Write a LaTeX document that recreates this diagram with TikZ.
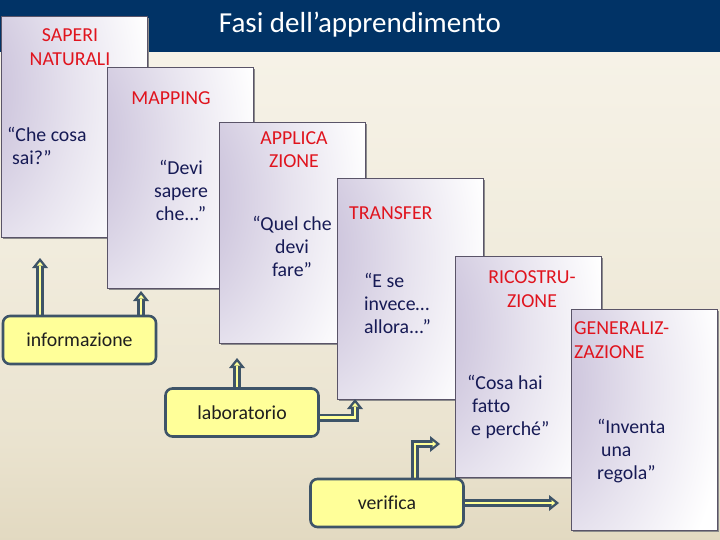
\documentclass[tikz,border=0pt]{standalone}
\usepackage{fontspec}
\setmainfont{Carlito}[Ligatures=CommonOff]
\usetikzlibrary{arrows.meta,calc,shadows}
\definecolor{navy}{HTML}{013366}
\definecolor{lav}{HTML}{C2B8D5}
\definecolor{cardedge}{HTML}{5A5468}
\definecolor{headred}{HTML}{E0141E}
\definecolor{quoteblue}{HTML}{161A55}
\definecolor{boxyel}{HTML}{FFFF99}
\definecolor{boxedge}{HTML}{3E5468}
\definecolor{bgtop}{HTML}{FCFAF4}
\definecolor{bgmid}{HTML}{F1ECDD}
\definecolor{bglow}{HTML}{EAE3CF}
\definecolor{bgbot}{HTML}{CFC19E}
\pgfdeclareverticalshading{bgshade}{100bp}{color(0bp)=(bgbot); color(35bp)=(bglow); color(55bp)=(bgmid); color(100bp)=(bgtop)}
\pgfdeclareradialshading{cardshade}{\pgfpoint{-50bp}{10bp}}{color(0bp)=(lav); color(15bp)=(lav!85!white); color(35bp)=(lav!40!white); color(55bp)=(white); color(120bp)=(white)}
\pgfdeclarelayer{front}
\pgfsetlayers{main,front}
\begin{document}
\begin{tikzpicture}[x=1pt,y=-1pt,
  card/.style={draw=cardedge, line width=0.8pt, shade, shading=cardshade,
    minimum width=146pt, minimum height=221pt, anchor=north west, inner sep=0pt,
    general shadow={fill=black!45, shadow xshift=1.4pt, shadow yshift=-1.4pt}},
  headtxt/.style={text=headred, font=\fontsize{19.8}{24}\selectfont, inner sep=0pt, anchor=base},
  quotetxt/.style={text=quoteblue, font=\fontsize{19.8}{23}\selectfont, inner sep=0pt, anchor=base},
  ybox/.style={draw=boxedge, fill=boxyel, line width=2.6pt, rounded corners=7pt,
    minimum width=153pt, minimum height=48pt, inner sep=0pt, text=black!88,
    font=\fontsize{19.8}{24}\selectfont},
  blockout/.style={draw=boxedge, line width=8pt, line join=miter,
    -{Triangle[width=16pt,length=10pt,line width=0pt]}},
  blockin/.style={draw=boxyel, line width=2.8pt, line join=miter, shorten >=3.9pt,
    -{Triangle[width=6pt,length=3.6pt,line width=0pt]}},
]
\useasboundingbox (0,0) rectangle (720,540);
% background
\shade[shading=bgshade] (0,52) rectangle (720,540);
\fill[navy] (0,0) rectangle (720,52);
\node[font=\fontsize{29}{33}\selectfont, text=white, anchor=base, inner sep=0pt] (title) at (360,33) {Fasi dell’apprendimento};

% cards (multi-line text nodes: base anchor = last line's baseline)
\node[card] (c1) at (1,16) {};
\node[headtxt, align=center] (h1) at (70,66) {SAPERI\\NATURALI};
\node[quotetxt, align=left, anchor=base west] (q1) at (7,165) {“Che cosa\\\hspace*{5pt}sai?”};

\node[card] (c2) at (107,67) {};
\node[headtxt] (h2) at (171,105) {MAPPING};
\node[quotetxt, align=center] (q2) at (181,221) {“Devi\\sapere\\che...”};

\node[card] (c3) at (219,122) {};
\node[headtxt, align=center] (h3) at (294,168) {APPLICA\\ZIONE};
\node[quotetxt, align=center] (q3) at (292,276) {“Quel che\\devi\\fare”};

\node[card] (c4) at (337,178) {};
\node[headtxt, anchor=base west] (h4) at (349,219) {TRANSFER};
\node[quotetxt, align=left, anchor=base west] (q4) at (364,333) {“E se\\invece…\\allora...”};

\node[card] (c5) at (455,256) {};
\node[headtxt, align=center] (h5) at (532,307) {RICOSTRU-\\ZIONE};
\node[quotetxt, align=left, anchor=base west] (q5) at (467,435) {“Cosa hai\\\hspace*{5pt}fatto\\\hspace*{4pt}e perché”};

\node[card] (c6) at (571,309) {};
\node[headtxt, align=left, anchor=base west] (h6) at (574,358) {GENERALIZ-\\ZAZIONE};
\node[quotetxt, align=left, anchor=base west] (q6) at (597,479) {“Inventa\\\hspace*{4pt}una\\regola”};

% yellow boxes on front layer
\begin{pgfonlayer}{front}
\node[ybox] (info) at (79.5,340) {informazione};
\node[ybox] (lab) at (242,412.5) {laboratorio};
\node[ybox] (ver) at (387,503) {verifica};
\end{pgfonlayer}

% arrow end points
\coordinate (t1) at (40,258);
\coordinate (t2) at (141,291);
\coordinate (t3) at (237,358);
\coordinate (t4) at (355,399);
\coordinate (t5) at (440,444);
\coordinate (t6) at (559,503);

\foreach \s in {blockout,blockin}{
  \draw[\s] (info.north -| t1) -- (t1);
  \draw[\s] (info.north -| t2) -- (t2);
  \draw[\s] (lab.north -| t3) -- (t3);
  \draw[\s] ($(lab.east)+(0,5)$) -| (t4);
  \draw[\s] ($(ver.north)+(28,0)$) |- (t5);
  \draw[\s] (ver.east) -- (t6);
}
\end{tikzpicture}
\end{document}
